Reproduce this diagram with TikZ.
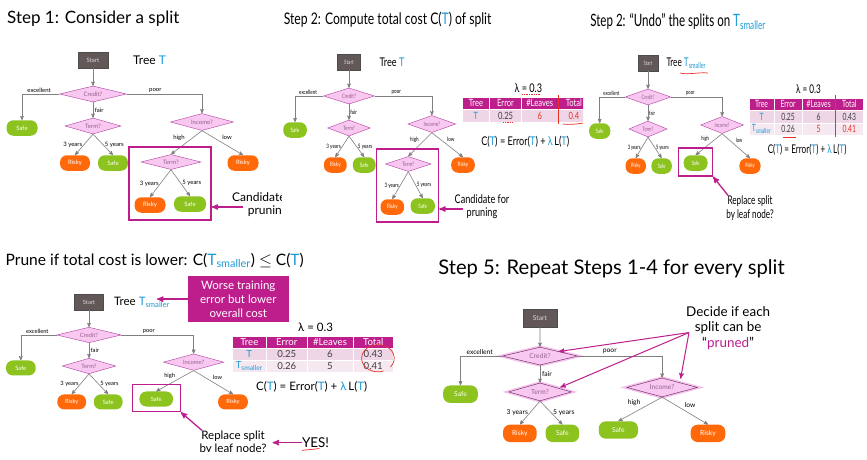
\documentclass[tikz,border=0pt]{standalone}
\usepackage{fontspec}
\setmainfont{Lato}
\usetikzlibrary{arrows,shapes.geometric,positioning}

\definecolor{slidemagenta}{RGB}{190,30,140}
\definecolor{tblue}{RGB}{30,155,215}
\definecolor{startgray}{RGB}{98,88,88}
\definecolor{diamondpink}{RGB}{248,200,240}
\definecolor{diamondline}{RGB}{175,60,160}
\definecolor{diamondtext}{RGB}{150,95,140}
\definecolor{glowpink}{RGB}{240,150,225}
\definecolor{leafgreen}{RGB}{140,195,30}
\definecolor{leaforange}{RGB}{255,105,10}
\definecolor{branchgray}{RGB}{128,128,128}
\definecolor{rowpink}{RGB}{238,214,230}
\definecolor{rowpale}{RGB}{246,232,241}
\definecolor{penred}{RGB}{232,50,40}

\newcommand{\treeT}{\textcolor{tblue}{T}}
\newcommand{\treeTs}{\textcolor{tblue}{T\textsubscript{smaller}}}

\tikzset{
  startbox/.style={rectangle, draw=black!70, fill=startgray, text=black!15,
    font=\fontsize{6}{7}\selectfont, minimum width=30, minimum height=16, inner sep=0pt},
  splitnode/.style={diamond, aspect=4, draw=diamondline, fill=diamondpink, text=diamondtext,
    font=\fontsize{6}{7}\selectfont, inner sep=0pt, minimum height=16},
  leafnode/.style={rectangle, rounded corners=7pt, text=white, font=\fontsize{6}{7}\selectfont,
    minimum width=30, minimum height=15.5, inner sep=0pt},
  safeleaf/.style={leafnode, fill=leafgreen},
  riskyleaf/.style={leafnode, fill=leaforange},
  branch/.style={->, draw=branchgray, line width=.6pt},
  branchlabel/.style={font=\fontsize{6}{7}\selectfont, inner sep=1.5pt},
  slidetitle/.style={font=\fontsize{17}{20}\selectfont, anchor=base west, inner sep=0pt},
  treename/.style={font=\fontsize{12}{14}\selectfont, anchor=west, inner sep=0pt},
  callnote/.style={font=\fontsize{12}{13.5}\selectfont, align=center, inner sep=0pt},
  prunebox/.style={draw=slidemagenta, line width=1.4pt, inner sep=0pt},
  callarrow/.style={->, draw=slidemagenta, line width=1.3pt},
  worsebox/.style={fill=slidemagenta, text=white, font=\fontsize{12}{14.4}\selectfont,
    align=center, minimum width=105, minimum height=48, inner sep=0pt},
  tabhead/.style={fill=slidemagenta, draw=white, line width=.5pt, text=white,
    font=\fontsize{10}{12}\selectfont, minimum height=12.5, inner sep=0pt},
  tabcell/.style={draw=white, line width=.5pt, text=black!75,
    font=\fontsize{10}{12}\selectfont, minimum height=12.5, inner sep=0pt},
  lambdatext/.style={font=\fontsize{12}{14}\selectfont, inner sep=0pt},
  costformula/.style={font=\fontsize{12}{14}\selectfont, inner sep=0pt},
  penmark/.style={draw=penred, line width=.7pt},
  % the tree that every slide shares
  pics/treebase/.style={code={
    \node[startbox] (-start) at (0,0) {Start};
    \node[splitnode, minimum width=67] (-credit) at (0,34) {Credit?};
    \node[splitnode, minimum width=56] (-term) at (0,66) {Term?};
    \node[splitnode, minimum width=63, minimum height=17] (-income) at (109,62) {Income?};
    \node[safeleaf, minimum width=31] (-safeA) at (-71,68) {Safe};
    \node[riskyleaf] (-riskyA) at (-18,103) {Risky};
    \node[safeleaf] (-safeB) at (20,103) {Safe};
    \node[riskyleaf, minimum width=31] (-riskyB) at (150,103) {Risky};
    \draw[branch] (-start) -- (-credit);
    \draw[branch] (-credit.west) -| node[branchlabel, above, pos=.27] (-excellent) {excellent} (-safeA);
    \draw[branch] (-credit.east) -| node[branchlabel, above, pos=.19] (-poor) {poor} (-income);
    \draw[branch] (-credit) -- node[branchlabel, right, pos=.5] (-fair) {fair} (-term);
    \draw[branch] (-term.south) -- node[branchlabel, left, pos=.5] (-threeA) {3 years} (-riskyA.north);
    \draw[branch] (-term.south) -- node[branchlabel, right, pos=.5] (-fiveA) {5 years} (-safeB.north);
    \draw[branch] (-income.south) -- node[branchlabel, above right, pos=.45] (-low) {low} (-riskyB.north);
  }},
  % full subtree under Income?
  pics/bigbranch/.style={code={
    \node[splitnode, minimum width=60, minimum height=15] (-termB) at (78,102) {Term?};
    \node[riskyleaf, minimum width=31] (-riskyC) at (57,145) {Risky};
    \node[safeleaf, minimum width=32] (-safeC) at (97,144) {Safe};
    \draw[branch] (-income.south) -- node[branchlabel, above left, pos=.5] (-high) {high} (-termB.north);
    \draw[branch] (-termB.south) -- node[branchlabel, left, pos=.5] (-threeB) {3 years} (-riskyC.north);
    \draw[branch] (-termB.south) -- node[branchlabel, right, pos=.5] (-fiveB) {5 years} (-safeC.north);
    \node[prunebox, minimum width=82, minimum height=73] (-box) at (77,123.5) {};
    \node[callnote] (-note) at (175,144.5) {Candidate for\\pruning};
    \coordinate (-tail) at (150,147);
    \draw[callarrow] (-tail) -- (-box.east |- -tail);
  }},
  % pruned: leaf under Income?
  pics/smallbranch/.style={code={
    \node[safeleaf, minimum width=35] (-safeD) at (70,100) {Safe};
    \draw[branch] (-income.south) -- node[branchlabel, above left, pos=.45] (-high) {high} (-safeD.north);
  }},
  pics/leafnote/.style={code={
    \node[prunebox, minimum width=50, minimum height=28] (-box) at (70,99) {};
    \node[callnote] (-note) at (150,145) {Replace split\\by leaf node?};
    \draw[callarrow] ([xshift=3pt]-note.north west) -- (-box.south east);
  }},
  pics/costhead/.style={code={
    \node[lambdatext] (-lambda) at (236,26) {λ = 0.3};
    \foreach \cx/\cw/\txt [count=\i] in {167/36/Tree, 206/42/Error, 251/48/\#Leaves, 296/42/Total}
      \node[tabhead, minimum width=\cw] (-h\i) at (\cx,41.25) {\txt};
  }},
}

\begin{document}
\begin{tikzpicture}[x=1pt, y=-1pt, >=stealth']
\useasboundingbox (0,0) rectangle (867,460);
\fill[white] (0,0) rectangle (867,460);

% Step 1
\begin{scope}
\clip (0,0) rectangle (281,235);
\begin{scope}[shift={(93,60)}, transform shape]
  \node[slidetitle] (p1-title) at (-86,-36) {Step 1: Consider a split};
  \node[treename] (p1-name) at (40,0) {Tree \treeT};
  \pic (p1) {treebase};
  \pic (p1) {bigbranch};
\end{scope}
\end{scope}

% Step 2
\begin{scope}
\clip (281,0) rectangle (583,235);
\begin{scope}[shift={(349,62)}, xscale=.76, transform shape]
  \node[slidetitle, font=\fontsize{16}{19}\selectfont] (p2-title) at (-86,-37) {Step 2: Compute total cost C(\treeT) of split};
  \node[treename] (p2-name) at (40,0) {Tree \treeT};
  \pic (p2) {treebase};
  \pic (p2) {bigbranch};
  \pic (p2) {costhead};
  \foreach \cx/\cw/\txt [count=\i] in {167/36/\treeT, 206/42/0.25, 251/48/\textcolor{penred}{6}, 296/42/\textcolor{penred}{0.4}}
    \node[tabcell, fill=rowpink, minimum width=\cw] (p2-a\i) at (\cx,53.75) {\txt};
  \node[costformula] (p2-cost) at (232,80) {C(\treeT) = Error(\treeT) + \textcolor{tblue}{λ}\,L(\treeT)};
  \draw[penmark] (276,33) -- (276,62);
  \draw[penmark] (281,62) .. controls (290,63) and (300,62) .. (309,61);
  \draw[penmark, densely dotted] (203,60) -- (215,60);
  \draw[penmark, densely dotted] (228,32) -- (251,32);
\end{scope}
\end{scope}

% Step 3
\begin{scope}
\clip (583,0) rectangle (867,235);
\begin{scope}[shift={(648,63)}, xscale=.68, transform shape]
  \node[slidetitle] (p3-title) at (-85,-36) {Step 2: “Undo” the splits on \treeTs};
  \node[treename] (p3-name) at (27,0) {Tree \treeTs};
  \pic (p3) {treebase};
  \pic (p3) {smallbranch};
  \pic (p3) {leafnote};
  \pic (p3) {costhead};
  \foreach \cx/\cw/\txt [count=\i] in {167/36/\treeT, 206/42/0.25, 251/48/6, 296/42/0.43}
    \node[tabcell, fill=rowpink, minimum width=\cw] (p3-a\i) at (\cx,53.75) {\txt};
  \foreach \cx/\cw/\txt [count=\i] in {167/36/\treeTs, 206/42/0.26, 251/48/\textcolor{penred}{5}, 296/42/\textcolor{penred}{0.41}}
    \node[tabcell, fill=rowpale, minimum width=\cw] (p3-b\i) at (\cx,66.25) {\txt};
  \node[costformula] (p3-cost) at (234,87) {C(\treeT) = Error(\treeT) + \textcolor{tblue}{λ}\,L(\treeT)};
  \draw[penmark] (47,10) .. controls (60,12) and (75,9) .. (88,10);
  \draw[penmark] (276,32) -- (276,74);
  \draw[penmark] (199,74) -- (217,74);
\end{scope}
\end{scope}

% Step 4
\begin{scope}
\clip (0,235) rectangle (430,451);
\begin{scope}[shift={(89,302)}, xscale=.96, yscale=.97, transform shape]
  \node[slidetitle, font=\fontsize{16.2}{19}\selectfont] (p4-title) at (-87,-38) {Prune if total cost is lower: C(\treeTs) $\leq$ C(\treeT)};
  \node[treename] (p4-name) at (26,0) {Tree \treeTs};
  \node[worsebox] (p4-worse) at (155.5,-3) {Worse training\\error but lower\\overall cost};
  \draw[callarrow] (p4-worse.west) -- ++(-32,0);
  \pic (p4) {treebase};
  \pic (p4) {smallbranch};
  \pic (p4) {leafnote};
  \pic (p4) {costhead};
  \foreach \cx/\cw/\txt [count=\i] in {167/36/\treeT, 206/42/0.25, 251/48/6, 296/42/0.43}
    \node[tabcell, fill=rowpink, minimum width=\cw] (p4-a\i) at (\cx,53.75) {\txt};
  \foreach \cx/\cw/\txt [count=\i] in {167/36/\treeTs, 206/42/0.26, 251/48/5, 296/42/0.41}
    \node[tabcell, fill=rowpale, minimum width=\cw] (p4-b\i) at (\cx,66.25) {\txt};
  \node[costformula] (p4-cost) at (232,87) {C(\treeT) = Error(\treeT) + \textcolor{tblue}{λ}\,L(\treeT)};
  \draw[penmark] (301,58) ++(70:17 and 14) arc[start angle=70, end angle=400, x radius=17, y radius=14];
  \node[font=\fontsize{14}{16}\selectfont, inner sep=0pt] (p4-yes) at (236,145) {YES!};
  \draw[callarrow, shorten >=6pt] (p4-yes.west) -- (p4-note.east |- p4-yes.west);
  \draw[penmark] (222,153) .. controls (228,152) and (234,152) .. (240,151);
\end{scope}
\end{scope}

% Step 5
\begin{scope}
\clip (430,235) rectangle (867,460);
\begin{scope}[shift={(540,318)}, scale=1.12, transform shape,
    splitnode/.append style={draw=diamondline!55!black,
      preaction={draw=glowpink, line width=3.5pt, opacity=.6}}]
  \node[slidetitle, font=\fontsize{18}{21}\selectfont] (p5-title) at (-91,-39) {Step 5: Repeat Steps 1-4 for every split};
  \pic (p5) {treebase};
  \pic (p5) {smallbranch};
  \node[callnote, font=\fontsize{12}{14}\selectfont] (p5-note) at (168,9) {Decide if each\\split can be\\“\textcolor{slidemagenta}{pruned}”};
  \coordinate (p5-src) at (133,13);
  \draw[callarrow, line width=1pt] (p5-src) -- (p5-credit.north east);
  \draw[callarrow, line width=1pt] (p5-src) -- ([xshift=4pt]p5-term.north east);
  \draw[callarrow, line width=1pt, shorten >=4pt] (p5-src) -- (p5-income.north east);
\end{scope}
\end{scope}
\end{tikzpicture}
\end{document}
